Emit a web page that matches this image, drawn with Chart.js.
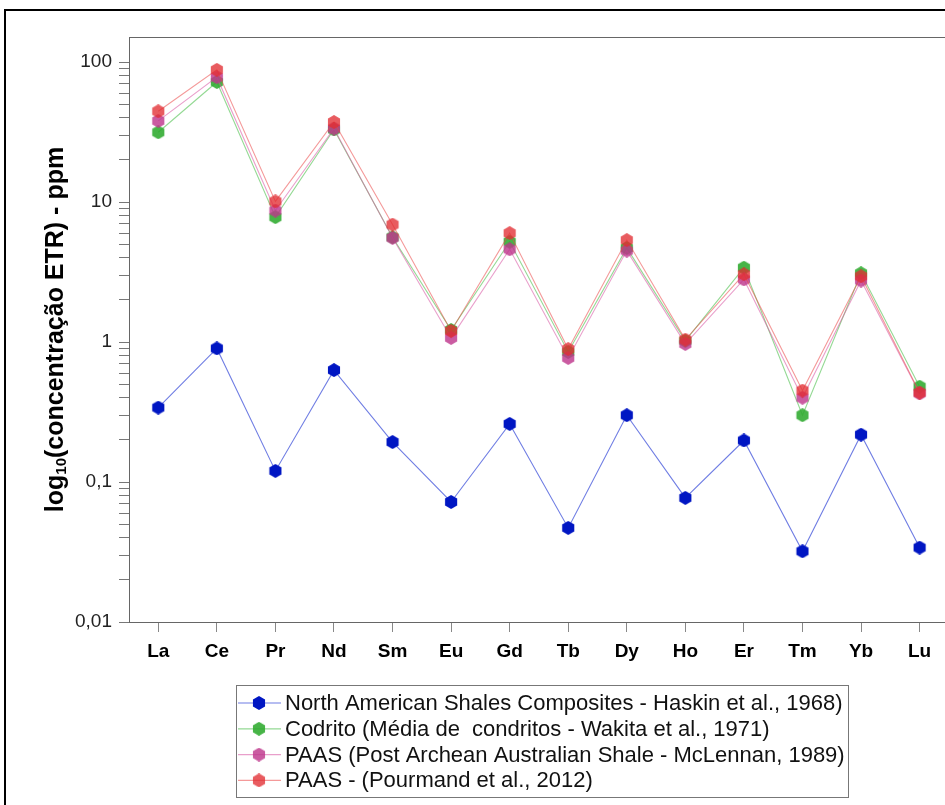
<!DOCTYPE html>
<html>
<head>
<meta charset="utf-8">
<script src="https://cdn.jsdelivr.net/npm/chart.js@4/dist/chart.umd.min.js"></script>
<style>
  html, body { margin: 0; padding: 0; background: #fff; overflow: hidden; }
  #wrap { position: relative; width: 957px; height: 805px; }
</style>
</head>
<body>
<div id="wrap"><canvas id="etrChart" width="957" height="805"></canvas></div>
<script>
// REE categories
const elements = ['La', 'Ce', 'Pr', 'Nd', 'Sm', 'Eu', 'Gd', 'Tb', 'Dy', 'Ho', 'Er', 'Tm', 'Yb', 'Lu'];

// series values (ppm)
const nascValues = [0.34, 0.9, 0.12, 0.63, 0.193, 0.072, 0.26, 0.047, 0.30, 0.077, 0.198, 0.032, 0.218, 0.034];
const condritoValues = [31.5, 72, 7.8, 33, 5.6, 1.22, 5.2, 0.85, 4.7, 1.02, 3.4, 0.30, 3.1, 0.48];
const paasMcLennanValues = [38, 78, 8.7, 33.5, 5.55, 1.07, 4.6, 0.77, 4.5, 0.97, 2.8, 0.40, 2.75, 0.43];
const paasPourmandValues = [44.5, 88, 10.1, 37.3, 6.9, 1.2, 6.0, 0.89, 5.35, 1.04, 3.05, 0.45, 2.95, 0.435];

const seriesLabels = [
    'North American Shales Composites - Haskin et al., 1968)',
    'Codrito (Média de  condritos - Wakita et al., 1971)',
    'PAAS (Post Archean Australian Shale - McLennan, 1989)',
    'PAAS - (Pourmand et al., 2012)'
];

// y axis ticks
const yMajorValues = [0.01, 0.1, 1, 10, 100];
const yTickLabels = ['0,01', '0,1', '1', '10', '100'];

const FONT = "'Liberation Sans', Arial, sans-serif";

function makeHex(fill) {
    const r = 7;
    const c = document.createElement('canvas');
    c.width = 14;
    c.height = 14;
    const g = c.getContext('2d');
    g.beginPath();
    for (let i = 0; i < 6; i++) {
        const a = -Math.PI / 2 + i * Math.PI / 3;
        const x = 7 + r * Math.cos(a);
        const y = 7 + r * Math.sin(a);
        if (i === 0) g.moveTo(x, y); else g.lineTo(x, y);
    }
    g.closePath();
    g.fillStyle = fill;
    g.fill();
    return c;
}

const styles = [
    { line: 'rgba(50, 70, 215, 0.7)', point: makeHex('rgb(0, 22, 195)') },
    { line: 'rgba(60, 185, 60, 0.55)', point: makeHex('rgba(45, 170, 45, 0.88)') },
    { line: 'rgba(215, 80, 160, 0.55)', point: makeHex('rgba(190, 55, 140, 0.82)') },
    { line: 'rgba(235, 70, 70, 0.55)', point: makeHex('rgba(225, 45, 50, 0.78)') }
];

const allValues = [nascValues, condritoValues, paasMcLennanValues, paasPourmandValues];
const drawOrder = [4, 3, 2, 1];

const datasets = allValues.map((vals, i) => ({
    label: seriesLabels[i],
    data: vals,
    borderColor: styles[i].line,
    borderWidth: 1.1,
    pointStyle: styles[i].point,
    pointRadius: 7,
    pointHoverRadius: 7,
    tension: 0,
    fill: false,
    order: drawOrder[i]
}));

// minor log ticks 2..9 per decade
const yAllTicks = [];
yMajorValues.forEach((v, i) => {
    yAllTicks.push(v);
    if (i < yMajorValues.length - 1) {
        for (let k = 2; k <= 9; k++) yAllTicks.push(+(v * k).toPrecision(3));
    }
});

const framePlugin = {
    id: 'frame',
    beforeDraw(chart) {
        const ctx = chart.ctx;
        ctx.save();
        ctx.fillStyle = '#fff';
        ctx.fillRect(0, 0, chart.width, chart.height);
        ctx.strokeStyle = '#000';
        ctx.lineWidth = 2;
        ctx.strokeRect(5, 10, 2000, 2000);
        ctx.restore();
    },
    afterDraw(chart) {
        const ctx = chart.ctx;
        const a = chart.chartArea;
        ctx.save();
        // top border of the plot
        ctx.strokeStyle = '#666';
        ctx.lineWidth = 1;
        ctx.beginPath();
        ctx.moveTo(a.left, a.top + 0.5);
        ctx.lineTo(a.right, a.top + 0.5);
        ctx.stroke();

        // y axis title with subscript
        ctx.translate(56, (a.top + a.bottom) / 2);
        ctx.rotate(-Math.PI / 2);
        ctx.fillStyle = '#000';
        ctx.textBaseline = 'middle';
        const big = 'bold 25px ' + FONT;
        const small = 'bold 15px ' + FONT;
        const p1 = 'log', p2 = '10', p3 = '(concentração ETR) - ppm';
        ctx.font = big;
        const w1 = ctx.measureText(p1).width;
        const w3 = ctx.measureText(p3).width;
        ctx.font = small;
        const w2 = ctx.measureText(p2).width;
        let x = -(w1 + w2 + w3) / 2;
        ctx.font = big;
        ctx.fillText(p1, x, 0);
        x += w1;
        ctx.font = small;
        ctx.fillText(p2, x, 6);
        x += w2;
        ctx.font = big;
        ctx.fillText(p3, x, 0);
        ctx.restore();

        // legend box
        ctx.save();
        const bx = 236, by = 685, bw = 612, bh = 112;
        ctx.fillStyle = '#fff';
        ctx.fillRect(bx, by, bw, bh);
        ctx.strokeStyle = '#777';
        ctx.lineWidth = 1;
        ctx.strokeRect(bx + 0.5, by + 0.5, bw, bh);
        ctx.font = '22px ' + FONT;
        ctx.textBaseline = 'middle';
        chart.data.datasets.forEach((ds, i) => {
            const y = 703 + i * 25.8;
            ctx.strokeStyle = ds.borderColor;
            ctx.lineWidth = 1.2;
            ctx.beginPath();
            ctx.moveTo(238, y);
            ctx.lineTo(281, y);
            ctx.stroke();
            const img = ds.pointStyle;
            ctx.drawImage(img, 259 - img.width / 2, y - img.height / 2);
            ctx.fillStyle = '#111';
            ctx.fillText(ds.label, 285, y + 1);
        });
        ctx.restore();
    }
};

new Chart(document.getElementById('etrChart'), {
    type: 'line',
    data: {
        labels: elements,
        datasets: datasets
    },
    options: {
        responsive: false,
        animation: false,
        events: [],
        layout: {
            padding: { left: 30, top: 37, right: 0, bottom: 123 }
        },
        plugins: {
            legend: { display: false },
            tooltip: { enabled: false }
        },
        scales: {
            x: {
                type: 'category',
                offset: true,
                afterFit(scale) { scale.height = 60; },
                border: { color: '#666', width: 1 },
                grid: {
                    drawOnChartArea: false,
                    drawTicks: true,
                    tickLength: 10,
                    color: '#888'
                },
                ticks: {
                    padding: 8,
                    color: '#000',
                    font: { family: FONT, size: 19, weight: 'bold' }
                }
            },
            y: {
                type: 'logarithmic',
                min: 0.01,
                max: 151,
                afterFit(scale) { scale.width = 99; },
                afterBuildTicks(scale) {
                    scale.ticks = yAllTicks.map(v => ({ value: v }));
                },
                border: { color: '#666', width: 1 },
                grid: {
                    drawOnChartArea: false,
                    drawTicks: true,
                    tickLength: 10,
                    color: '#777'
                },
                ticks: {
                    autoSkip: false,
                    padding: 7,
                    color: '#222',
                    font: { family: FONT, size: 19 },
                    callback(value) {
                        const idx = yMajorValues.findIndex(m => Math.abs(m - value) < m * 1e-6);
                        return idx >= 0 ? yTickLabels[idx] : '';
                    }
                }
            }
        }
    },
    plugins: [framePlugin]
});
</script>
</body>
</html>
